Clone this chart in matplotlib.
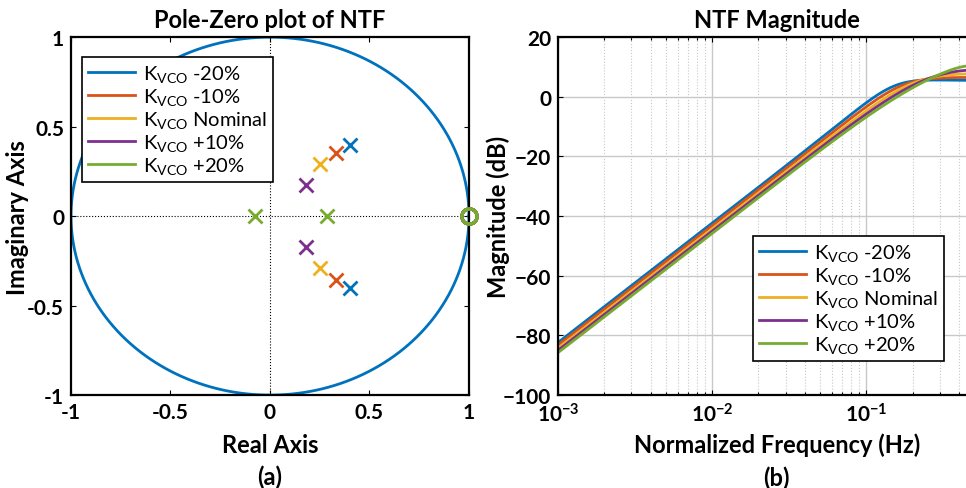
import numpy as np
import matplotlib
matplotlib.use("Agg")
import matplotlib.pyplot as plt

plt.rcParams["font.family"] = ["Lato", "DejaVu Sans"]
plt.rcParams["mathtext.fontset"] = "custom"
plt.rcParams["mathtext.rm"] = "Lato"
plt.rcParams["mathtext.it"] = "Lato"
plt.rcParams["mathtext.bf"] = "Lato:bold"

# NTF variants for the VCO gain sweep
labels = [r"K$_{\mathrm{VCO}}$ -20%", r"K$_{\mathrm{VCO}}$ -10%",
          r"K$_{\mathrm{VCO}}$ Nominal", r"K$_{\mathrm{VCO}}$ +10%",
          r"K$_{\mathrm{VCO}}$ +20%"]
colors = ["#0072BD", "#D95319", "#EDB120", "#7E2F8E", "#77AC30"]
poles = [
    [0.40 + 0.40j, 0.40 - 0.40j],
    [0.33 + 0.355j, 0.33 - 0.355j],
    [0.25 + 0.29j, 0.25 - 0.29j],
    [0.18 + 0.175j, 0.18 - 0.175j],
    [-0.075, 0.285],
]
zeros = [1.0, 1.0]

f = np.logspace(-3, np.log10(0.5), 1000)
z = np.exp(2j * np.pi * f)

fig = plt.figure(figsize=(9.66, 4.89), dpi=100)

# ---- (a) pole-zero map ----
ax1 = fig.add_axes([0.0735, 0.19, 0.412, 0.732])
theta = np.linspace(0, 2 * np.pi, 400)
ax1.plot(np.cos(theta), np.sin(theta), color=colors[0], lw=2)
ax1.axhline(0, color="k", ls=":", lw=0.8)
ax1.axvline(0, color="k", ls=":", lw=0.8)
for p, c, lab in zip(poles, colors, labels):
    p = np.asarray(p, dtype=complex)
    zr = np.asarray(zeros, dtype=complex)
    ax1.plot([], [], color=c, lw=2, label=lab)
    ax1.plot(p.real, p.imag, "x", color=c, ms=10, mew=2)
    ax1.plot(zr.real, zr.imag, "o", mfc="none", mec=c, ms=11, mew=2.2,
             clip_on=False, zorder=5)
ax1.set_xlim(-1, 1)
ax1.set_ylim(-1, 1)
ax1.set_xticks([-1, -0.5, 0, 0.5, 1])
ax1.set_yticks([-1, -0.5, 0, 0.5, 1])
ax1.set_xticklabels(["-1", "-0.5", "0", "0.5", "1"])
ax1.set_yticklabels(["-1", "-0.5", "0", "0.5", "1"])
ax1.set_title("Pole-Zero plot of NTF", fontsize=17, fontweight="bold", pad=7)
ax1.set_xlabel("Real Axis\n(a)", fontsize=17, fontweight="bold", linespacing=1.45)
ax1.xaxis.set_label_coords(0.5, -0.105)
ax1.set_ylabel("Imaginary Axis", fontsize=17, fontweight="bold")
ax1.yaxis.set_label_coords(-0.105, 0.5)
leg1 = ax1.legend(loc="upper left", bbox_to_anchor=(0.028, 0.944), borderaxespad=0,
                  fontsize=14.5, fancybox=False, framealpha=1, edgecolor="k",
                  handlelength=2.3, labelspacing=0.1, borderpad=0.3,
                  handletextpad=0.4)
leg1.get_frame().set_linewidth(1.2)

# ---- (b) NTF magnitude ----
ax2 = fig.add_axes([0.5776, 0.19, 0.4306, 0.732])
for p, c, lab in zip(poles, colors, labels):
    num = np.prod([z - q for q in zeros], axis=0)
    den = np.prod([z - q for q in p], axis=0)
    mag = 20 * np.log10(np.abs(num / den))
    ax2.plot(f, mag, color=c, lw=2, label=lab)
ax2.set_xscale("log")
ax2.set_xlim(1e-3, 0.5)
ax2.set_ylim(-100, 20)
ax2.set_yticks(np.arange(-100, 21, 20))
ax2.grid(True, which="major", color="#c8c8c8", lw=1, ls="-")
ax2.grid(True, which="minor", axis="x", color="#c8c8c8", lw=0.8, ls=":")
ax2.set_axisbelow(True)
ax2.set_title("NTF Magnitude", fontsize=17, fontweight="bold", pad=7, x=0.526)
ax2.set_xlabel("Normalized Frequency (Hz)\n(b)", fontsize=17, fontweight="bold",
               linespacing=1.45)
ax2.xaxis.set_label_coords(0.526, -0.105)
ax2.set_ylabel("Magnitude (dB)", fontsize=17, fontweight="bold")
ax2.yaxis.set_label_coords(-0.115, 0.5)
leg2 = ax2.legend(loc="lower right", bbox_to_anchor=(0.928, 0.095), borderaxespad=0,
                  fontsize=14.5, fancybox=False, framealpha=1, edgecolor="k",
                  handlelength=2.3, labelspacing=0.1, borderpad=0.3,
                  handletextpad=0.4)
leg2.get_frame().set_linewidth(1.2)

for ax in (ax1, ax2):
    ax.tick_params(which="both", direction="in", top=True, right=True,
                   labelsize=15, width=0.8, pad=5)
    for lbl in ax.get_xticklabels() + ax.get_yticklabels():
        lbl.set_fontweight("bold")
    for sp in ax.spines.values():
        sp.set_linewidth(1.6)

fig.savefig("out.png", dpi=100)
